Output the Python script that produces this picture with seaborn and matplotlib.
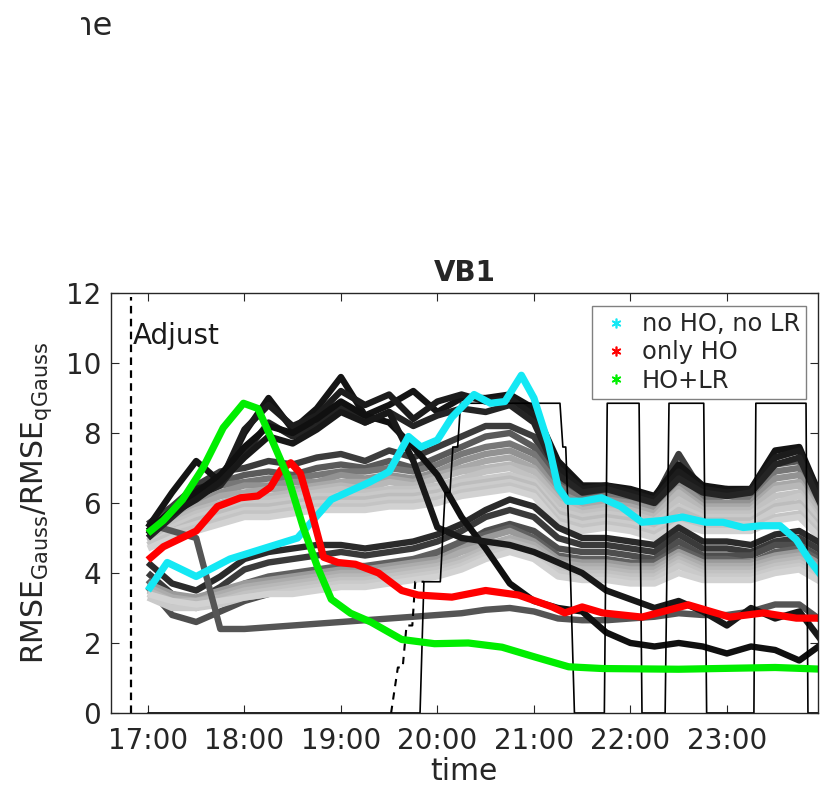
import numpy as np
import pandas as pd
import matplotlib
matplotlib.use("Agg")
import matplotlib.pyplot as plt
from matplotlib.lines import Line2D
from matplotlib.transforms import Bbox, TransformedBbox
import seaborn as sns

sns.set_style("ticks")
plt.rcParams["font.family"] = ["DejaVu Sans"]
plt.rcParams["mathtext.fontset"] = "dejavusans"

# ---------------------------------------------------------------- data
# quarter-hour sampling of the ensemble members (hours of day)
grid_t = [17.0, 17.25, 17.5, 17.75, 18.0, 18.25, 18.5, 18.75, 19.0, 19.25,
          19.5, 19.75, 20.0, 20.25, 20.5, 20.75, 21.0, 21.25, 21.5, 21.75,
          22.0, 22.25, 22.5, 22.75, 23.0, 23.25, 23.5, 23.75, 24.0]

# upper group of members
U1 = [5.4, 5.9, 6.5, 6.9, 7.0, 7.2, 7.1, 7.3, 7.4, 7.2, 7.5, 7.3, 7.6, 7.9, 8.2, 8.2, 7.9, 6.8, 6.3, 6.4, 6.3, 6.1, 7.4, 6.3, 6.4, 6.3, 7.3, 7.5, 6.0]
U2 = [5.3, 5.8, 6.3, 6.6, 6.8, 6.9, 6.8, 7.0, 7.1, 7.0, 7.2, 7.0, 7.3, 7.6, 7.9, 8.0, 7.6, 6.6, 6.2, 6.3, 6.2, 6.0, 7.0, 6.2, 6.3, 6.2, 7.1, 7.2, 5.9]
U3 = [5.2, 5.7, 6.2, 6.5, 6.6, 6.7, 6.7, 6.8, 6.9, 6.9, 7.0, 6.9, 7.1, 7.4, 7.6, 7.7, 7.4, 6.5, 6.1, 6.2, 6.1, 5.9, 6.8, 6.1, 6.2, 6.1, 6.9, 7.0, 5.8]
U4 = [5.1, 5.6, 6.0, 6.3, 6.5, 6.5, 6.6, 6.6, 6.8, 6.7, 6.8, 6.7, 6.9, 7.2, 7.4, 7.5, 7.2, 6.3, 6.0, 6.1, 6.0, 5.8, 6.6, 6.0, 6.0, 6.0, 6.7, 6.8, 5.7]
U5 = [5.0, 5.5, 5.9, 6.2, 6.3, 6.4, 6.4, 6.5, 6.6, 6.6, 6.7, 6.6, 6.8, 7.0, 7.2, 7.3, 7.0, 6.2, 5.9, 6.0, 5.9, 5.7, 6.4, 5.9, 5.9, 5.9, 6.5, 6.6, 5.6]
U6 = [5.1, 5.5, 5.8, 6.0, 6.2, 6.2, 6.3, 6.4, 6.5, 6.4, 6.6, 6.5, 6.7, 6.9, 7.0, 7.1, 6.9, 6.1, 5.8, 5.9, 5.8, 5.6, 6.3, 5.8, 5.8, 5.8, 6.4, 6.5, 5.5]
U7 = [5.0, 5.4, 5.7, 5.9, 6.1, 6.1, 6.2, 6.3, 6.4, 6.3, 6.4, 6.4, 6.5, 6.7, 6.9, 7.0, 6.7, 6.0, 5.7, 5.8, 5.7, 5.5, 6.1, 5.7, 5.7, 5.7, 6.2, 6.3, 5.4]
U8 = [4.9, 5.3, 5.6, 5.8, 6.0, 6.0, 6.1, 6.2, 6.2, 6.2, 6.3, 6.3, 6.4, 6.6, 6.7, 6.8, 6.6, 5.8, 5.6, 5.7, 5.6, 5.4, 5.9, 5.6, 5.6, 5.6, 6.0, 6.2, 5.3]
U9 = [4.9, 5.2, 5.5, 5.7, 5.9, 5.9, 6.0, 6.1, 6.1, 6.1, 6.2, 6.2, 6.3, 6.5, 6.6, 6.7, 6.5, 5.7, 5.5, 5.6, 5.5, 5.3, 5.8, 5.5, 5.5, 5.5, 5.9, 6.0, 5.2]
U10 = [4.8, 5.2, 5.4, 5.6, 5.8, 5.8, 5.9, 6.0, 6.0, 6.0, 6.1, 6.1, 6.2, 6.4, 6.5, 6.6, 6.4, 5.6, 5.4, 5.5, 5.4, 5.2, 5.6, 5.4, 5.4, 5.4, 5.8, 5.9, 5.1]
U11 = [4.8, 5.1, 5.3, 5.5, 5.7, 5.7, 5.8, 5.9, 5.9, 5.9, 6.0, 6.0, 6.1, 6.3, 6.4, 6.5, 6.3, 5.5, 5.3, 5.4, 5.3, 5.1, 5.5, 5.3, 5.3, 5.3, 5.6, 5.7, 5.0]
U12 = [4.7, 5.0, 5.2, 5.4, 5.6, 5.6, 5.7, 5.8, 5.8, 5.8, 5.9, 5.9, 6.0, 6.2, 6.3, 6.4, 6.2, 5.4, 5.2, 5.3, 5.2, 5.0, 5.4, 5.2, 5.2, 5.2, 5.5, 5.6, 4.9]

# lower group of members
L1 = [4.3, 3.7, 3.5, 3.9, 4.4, 4.6, 4.7, 4.8, 4.8, 4.7, 4.8, 4.9, 5.1, 5.4, 5.8, 6.1, 5.9, 5.3, 5.0, 5.0, 4.9, 4.8, 5.3, 4.9, 4.9, 4.8, 5.1, 5.2, 4.8]
L2 = [4.0, 3.4, 3.2, 3.6, 4.1, 4.3, 4.4, 4.5, 4.6, 4.5, 4.6, 4.7, 4.9, 5.2, 5.6, 5.8, 5.6, 5.0, 4.8, 4.8, 4.7, 4.6, 5.1, 4.7, 4.7, 4.6, 4.9, 5.0, 4.6]
L3 = [3.6, 2.8, 2.6, 2.9, 3.2, 3.4, 3.6, 3.8, 3.9, 4.0, 4.2, 4.3, 4.5, 4.8, 5.2, 5.4, 5.2, 4.7, 4.6, 4.6, 4.5, 4.4, 4.9, 4.5, 4.5, 4.5, 4.8, 4.8, 4.4]
L4 = [3.8, 3.1, 3.0, 3.3, 3.7, 3.9, 4.0, 4.1, 4.2, 4.2, 4.3, 4.4, 4.6, 4.9, 5.1, 5.3, 5.0, 4.5, 4.4, 4.4, 4.3, 4.3, 4.7, 4.4, 4.4, 4.3, 4.6, 4.7, 4.3]
L5 = [3.7, 3.4, 3.3, 3.5, 3.7, 3.8, 3.9, 4.0, 4.1, 4.1, 4.2, 4.3, 4.4, 4.7, 5.0, 5.2, 4.9, 4.4, 4.3, 4.3, 4.2, 4.2, 4.6, 4.3, 4.3, 4.3, 4.5, 4.6, 4.2]
L6 = [3.6, 3.3, 3.2, 3.4, 3.6, 3.7, 3.8, 3.9, 4.0, 4.0, 4.1, 4.2, 4.3, 4.6, 4.8, 5.0, 4.8, 4.3, 4.2, 4.2, 4.1, 4.1, 4.5, 4.2, 4.2, 4.2, 4.4, 4.5, 4.1]
L7 = [3.5, 3.2, 3.2, 3.3, 3.5, 3.6, 3.7, 3.8, 3.9, 3.9, 4.0, 4.1, 4.2, 4.4, 4.7, 4.9, 4.7, 4.2, 4.1, 4.1, 4.0, 4.0, 4.4, 4.1, 4.1, 4.1, 4.3, 4.4, 4.0]
L8 = [3.4, 3.1, 3.1, 3.2, 3.4, 3.5, 3.6, 3.7, 3.8, 3.8, 3.9, 4.0, 4.1, 4.3, 4.6, 4.8, 4.6, 4.1, 4.0, 4.0, 3.9, 3.9, 4.3, 4.0, 4.0, 4.0, 4.2, 4.3, 3.9]
L9 = [3.3, 3.0, 3.0, 3.1, 3.3, 3.4, 3.5, 3.6, 3.7, 3.7, 3.8, 3.9, 4.0, 4.2, 4.5, 4.7, 4.5, 4.0, 3.9, 3.9, 3.8, 3.8, 4.2, 3.9, 3.9, 3.9, 4.1, 4.2, 3.8]
L10 = [3.4, 3.2, 3.1, 3.2, 3.3, 3.4, 3.4, 3.5, 3.6, 3.6, 3.7, 3.8, 3.9, 4.1, 4.4, 4.6, 4.4, 3.9, 3.8, 3.8, 3.7, 3.7, 4.0, 3.8, 3.8, 3.8, 4.0, 4.1, 3.7]

# member that drops early and stays low
D1 = [5.4, 5.2, 5.0, 2.4, 2.4, 2.45, 2.5, 2.55, 2.6, 2.65, 2.7, 2.75, 2.8, 2.85, 2.95, 3.0, 2.9, 2.7, 2.65, 2.65, 2.7, 2.75, 2.85, 2.8, 2.8, 2.9, 3.1, 3.1, 2.6]

# darkest members (high early ratios)
K1 = [5.3, 6.3, 7.2, 6.6, 8.0, 9.0, 8.1, 8.7, 9.6, 8.5, 8.8, 9.2, 8.6, 9.0, 9.0, 9.1, 8.7, 7.2, 6.5, 6.5, 6.4, 6.2, 7.1, 6.5, 6.4, 6.4, 7.5, 7.6, 6.0]
K2 = [5.1, 5.8, 6.4, 6.6, 8.1, 8.8, 8.2, 8.5, 9.2, 8.8, 9.1, 8.4, 8.9, 9.1, 8.9, 9.0, 8.5, 7.0, 6.4, 6.5, 6.3, 6.1, 6.9, 6.4, 6.3, 6.4, 7.3, 7.5, 5.9]
K3 = [5.0, 5.6, 6.2, 6.5, 7.4, 8.3, 7.9, 8.2, 8.8, 8.3, 8.6, 8.2, 8.5, 8.7, 8.6, 8.8, 8.3, 6.8, 6.3, 6.4, 6.2, 6.0, 6.7, 6.3, 6.2, 6.3, 7.1, 7.3, 5.8]
X1 = [5.2, 5.8, 6.3, 6.8, 7.6, 8.2, 8.0, 8.4, 8.9, 8.5, 8.3, 7.6, 6.8, 5.6, 4.7, 3.7, 3.2, 3.0, 2.9, 2.3, 2.0, 1.9, 2.0, 1.9, 1.7, 1.9, 1.8, 1.5, 2.0]
X2 = [5.1, 5.7, 6.1, 6.6, 7.3, 7.9, 7.7, 8.1, 8.6, 8.3, 8.6, 7.2, 5.3, 5.0, 4.9, 4.8, 4.6, 4.3, 4.0, 3.5, 3.25, 3.0, 3.2, 2.9, 2.5, 3.0, 2.7, 2.9, 2.0]

member_names = ["U1", "U2", "U3", "U4", "U5", "U6", "U7", "U8", "U9", "U10", "U11", "U12",
                "L1", "L2", "L3", "L4", "L5", "L6", "L7", "L8", "L9", "L10",
                "D1", "K1", "K2", "K3", "X1", "X2"]
member_values = [U1, U2, U3, U4, U5, U6, U7, U8, U9, U10, U11, U12,
                 L1, L2, L3, L4, L5, L6, L7, L8, L9, L10,
                 D1, K1, K2, K3, X1, X2]
member_colors = ["#3c3c3c", "#5a5a5a", "#777777", "#929292", "#a8a8a8", "#b8b8b8",
                 "#c2c2c2", "#c9c9c9", "#bdbdbd", "#cccccc", "#c4c4c4", "#d2d2d2",
                 "#2a2a2a", "#3a3a3a", "#4e4e4e", "#606060", "#9a9a9a", "#acacac",
                 "#b8b8b8", "#c2c2c2", "#cacaca", "#d2d2d2",
                 "#555555", "#141414", "#1c1c1c", "#242424", "#101010", "#181818"]

# highlighted configurations
cyan_t = [17.0, 17.2, 17.5, 17.85, 18.2, 18.55, 18.9, 19.3, 19.5, 19.7, 19.83, 20.0,
          20.15, 20.38, 20.55, 20.7, 20.87, 21.0, 21.15, 21.25, 21.35, 21.5, 21.7,
          21.9, 22.12, 22.33, 22.54, 22.78, 22.96, 23.17, 23.35, 23.55, 23.72, 23.86, 24.0]
cyan_v = [3.5, 4.3, 3.9, 4.4, 4.7, 5.0, 6.1, 6.6, 6.9, 7.9, 7.6, 7.8,
          8.45, 9.1, 8.85, 8.9, 9.65, 9.0, 7.7, 6.45, 6.05, 6.05, 6.15,
          5.9, 5.45, 5.5, 5.6, 5.45, 5.45, 5.3, 5.35, 5.35, 4.95, 4.35, 3.85]

red_t = [17.0, 17.16, 17.5, 17.72, 17.96, 18.14, 18.27, 18.38, 18.48, 18.58,
         18.69, 18.82, 18.97, 19.15, 19.39, 19.63, 19.8, 20.15, 20.5, 20.84,
         21.19, 21.32, 21.5, 21.71, 22.12, 22.6, 23.03, 23.38, 23.72, 24.0]
red_v = [4.37, 4.75, 5.2, 5.9, 6.15, 6.2, 6.45, 6.95, 7.15, 6.85,
         5.8, 4.45, 4.3, 4.25, 4.0, 3.5, 3.37, 3.31, 3.5, 3.37,
         3.03, 2.86, 3.03, 2.86, 2.74, 3.09, 2.74, 2.86, 2.71, 2.71]

green_t = [17.0, 17.16, 17.36, 17.57, 17.78, 17.99, 18.14, 18.27, 18.45, 18.61,
           18.76, 18.9, 19.1, 19.31, 19.63, 19.97, 20.32, 20.67, 21.01, 21.36,
           21.71, 22.5, 23.5, 24.0]
green_v = [5.14, 5.5, 6.1, 7.0, 8.15, 8.85, 8.7, 7.9, 6.75, 5.3,
           4.15, 3.25, 2.85, 2.6, 2.1, 1.98, 2.0, 1.88, 1.6, 1.32,
           1.27, 1.25, 1.3, 1.25]

# number of active stations (scaled), solid and dashed
step_t = [17.0, 19.82, 19.86, 20.03, 20.08, 20.13, 20.16, 20.21, 20.24, 21.27,
          21.30, 21.33, 21.38, 21.42, 21.73, 21.76, 22.09, 22.12, 22.36, 22.40,
          22.76, 22.79, 23.28, 23.30, 23.82, 23.84, 24.0]
step_v = [0.0, 0.0, 3.75, 3.75, 6.3, 6.3, 7.6, 7.6, 8.85, 8.85,
          7.6, 7.6, 3.8, 0.0, 0.0, 8.85, 8.85, 0.0, 0.0, 8.85,
          8.85, 0.0, 0.0, 8.85, 8.85, 0.0, 0.0]

dash_t = [19.52, 19.59, 19.64, 19.68, 19.74, 19.77, 19.86]
dash_v = [0.0, 1.3, 1.3, 2.5, 2.5, 3.75, 3.75]

adjust_time = 16.824

legend_labels = ["no HO, no LR", "only HO", "HO+LR"]
legend_colors = ["#14e8f4", "#ff0000", "#00ee00"]

x_ticks = [17, 18, 19, 20, 21, 22, 23]
x_ticklabels = ["17:00", "18:00", "19:00", "20:00", "21:00", "22:00", "23:00"]
y_ticks = [0, 2, 4, 6, 8, 10, 12]

# ---------------------------------------------------------------- figure
fig = plt.figure(figsize=(8.22, 7.86), dpi=100)
ax = fig.add_axes([0.135, 0.0929, 0.860, 0.5343])

rows = []
for name, vals in zip(member_names, member_values):
    for t, v in zip(grid_t, vals):
        rows.append((name, t, v))
members = pd.DataFrame(rows, columns=["member", "t", "v"])

sns.lineplot(data=members, x="t", y="v", hue="member", hue_order=member_names,
             palette=dict(zip(member_names, member_colors)), estimator=None,
             sort=False, linewidth=4.6, legend=False, ax=ax,
             solid_capstyle="butt", solid_joinstyle="round")

# station counts
sns.lineplot(x=step_t, y=step_v, estimator=None, sort=False, color="black",
             linewidth=1.2, ax=ax)
sns.lineplot(x=dash_t, y=dash_v, estimator=None, sort=False, color="black",
             linewidth=1.5, ax=ax, dashes=False, linestyle=(0, (3.5, 3.0)))

# highlighted configurations
for tt, vv, c in [(cyan_t, cyan_v, legend_colors[0]),
                  (red_t, red_v, legend_colors[1]),
                  (green_t, green_v, legend_colors[2])]:
    sns.lineplot(x=tt, y=vv, estimator=None, sort=False, color=c, linewidth=5.2,
                 ax=ax, solid_capstyle="butt", solid_joinstyle="round")

ax.axvline(adjust_time, ymin=0, ymax=0.99, color="black", linewidth=1.6,
           linestyle=(0, (3.4, 2.4)))
ax.text(adjust_time + 0.02, 10.55, "Adjust", fontsize=20, ha="left",
        va="baseline", color="#1a1a1a")

ax.set_xlim(16.617, 23.943)
ax.set_ylim(0, 12)
ax.set_xticks(x_ticks)
ax.set_xticklabels(x_ticklabels)
ax.set_yticks(y_ticks)
ax.tick_params(direction="in", top=True, right=True, length=6, width=0.8,
               labelsize=20, colors="#262626")
ax.tick_params(axis="x", pad=10)
ax.tick_params(axis="y", pad=7)
for s in ax.spines.values():
    s.set_linewidth(1.0)
    s.set_color("#262626")

ax.set_title("VB1", fontsize=20, fontweight="bold", pad=9)
ax.set_xlabel("time", fontsize=21.5, color="#262626")
ax.set_ylabel(r"RMSE$_{\mathregular{Gauss}}$/RMSE$_{\mathregular{qGauss}}$",
              fontsize=21.5, color="#262626")
ax.xaxis.set_label_coords(0.5, -0.105)
ax.yaxis.set_label_coords(-0.08, 0.5)

handles = [Line2D([0], [0], marker=(6, 2, 0), linestyle="none", color=c,
                  markersize=7, markeredgewidth=1.2) for c in legend_colors]
leg = ax.legend(handles, legend_labels, loc="upper right",
                bbox_to_anchor=(0.983, 0.969), borderaxespad=0, fontsize=17.4,
                frameon=True, fancybox=False, framealpha=1, edgecolor="#808080",
                handlelength=1.5, handletextpad=0.3, labelspacing=0.18,
                borderpad=0.25)
leg.get_frame().set_linewidth(1.0)

# axis caption of the panel above, cut at the figure edge
cap = fig.text(112 / 822, 1 - 35 / 786, "time", fontsize=23, ha="right",
               va="baseline", color="#262626")
cap.set_clip_box(TransformedBbox(Bbox([[81 / 822, 0.9], [1, 1]]), fig.transFigure))
cap.set_clip_on(True)

fig.savefig("out.png", dpi=100)
